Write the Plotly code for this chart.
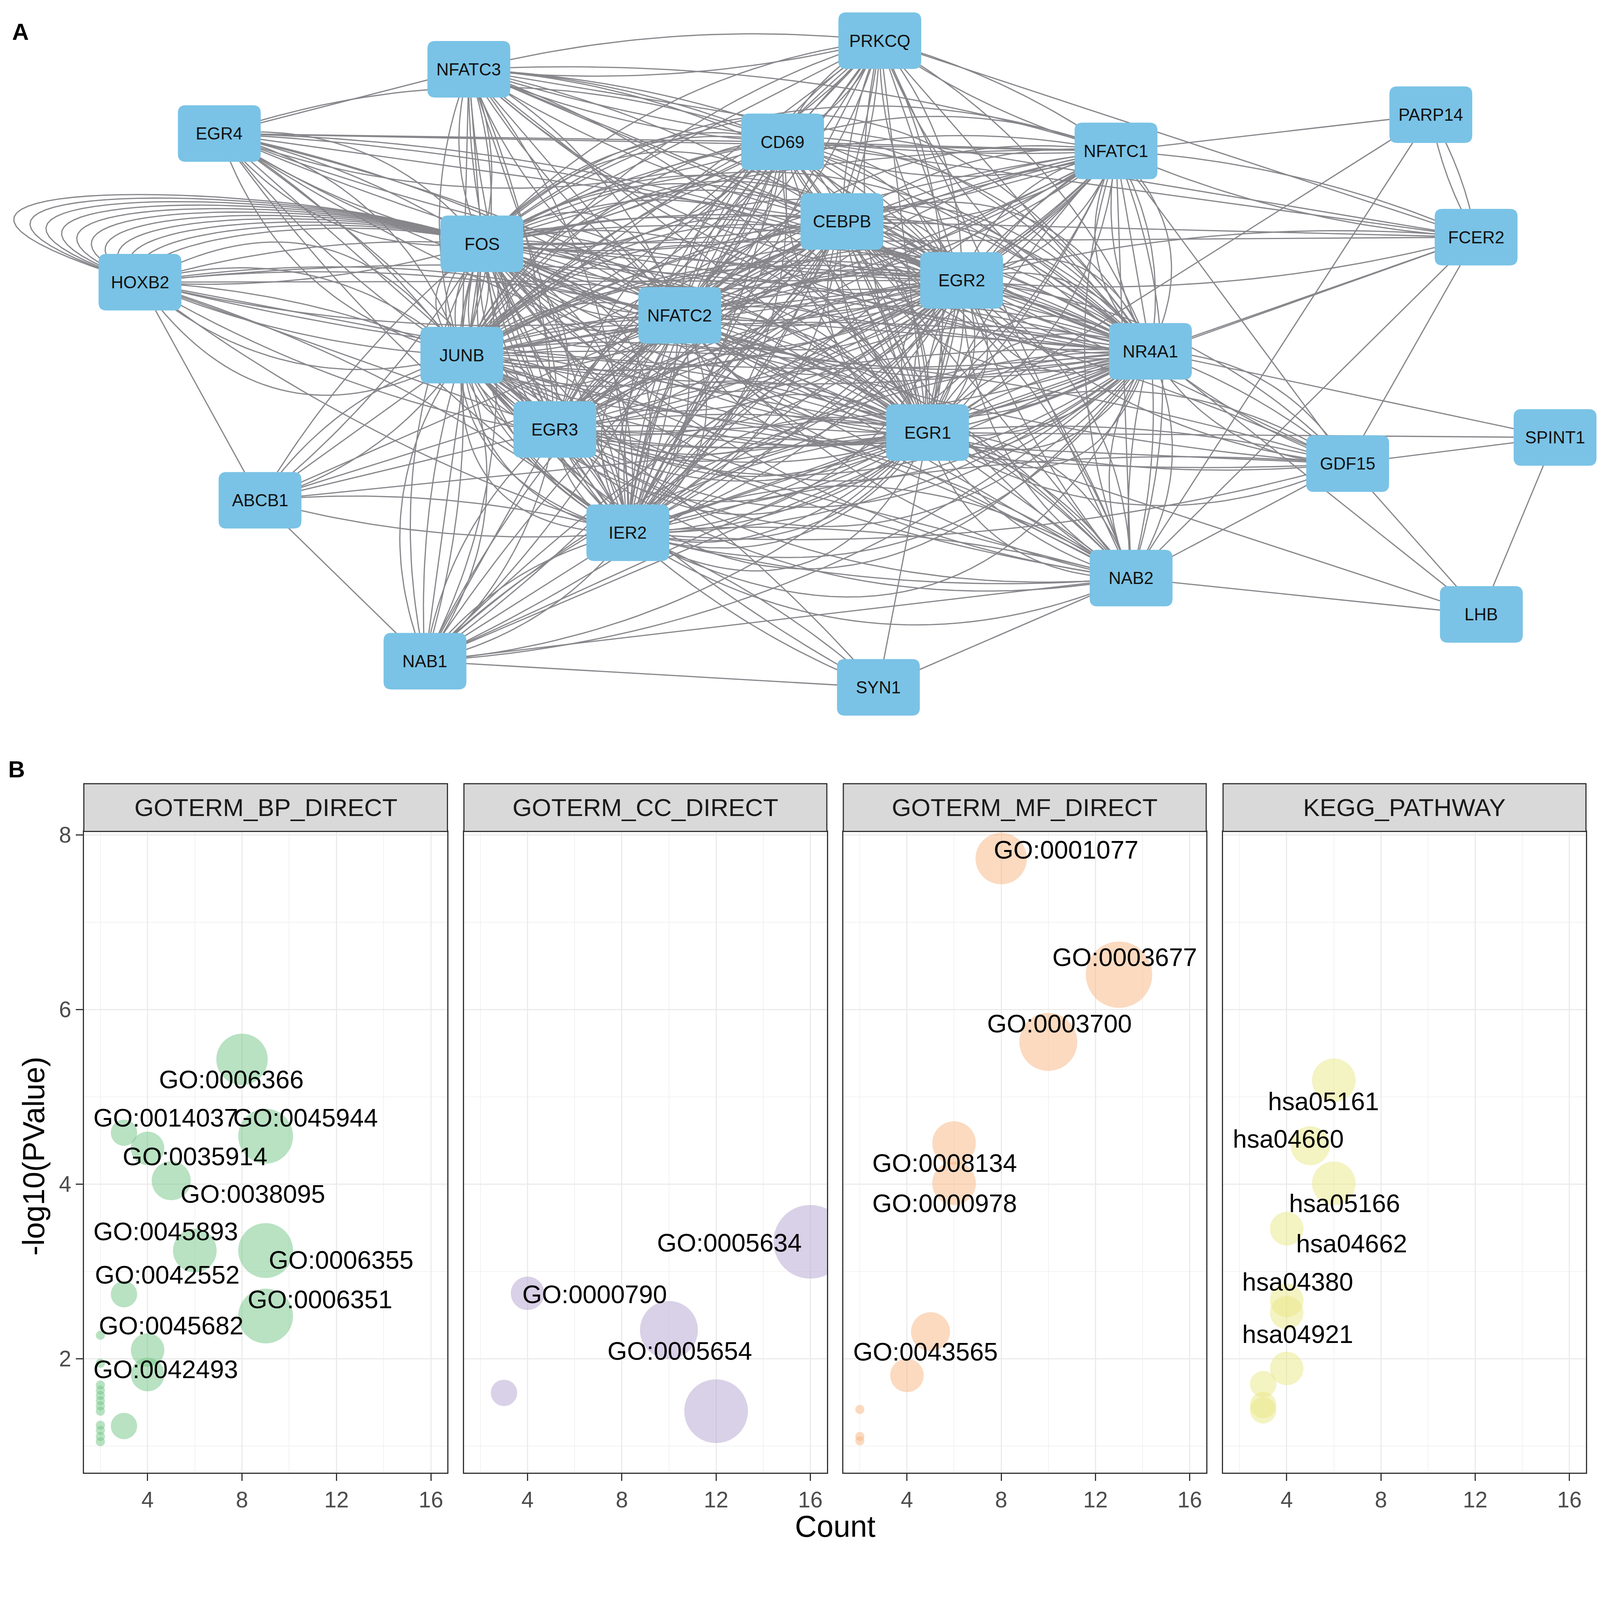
import numpy as np
import plotly.graph_objects as go

# ------------------------------------------------------------------
# Panel A : PPI network (node layout coordinates in reference pixels)
# ------------------------------------------------------------------
node_names = ["PRKCQ", "NFATC3", "EGR4", "CD69", "NFATC1", "PARP14", "FCER2", "CEBPB",
              "FOS", "HOXB2", "EGR2", "NFATC2", "NR4A1", "JUNB", "EGR3", "EGR1",
              "SPINT1", "GDF15", "ABCB1", "IER2", "NAB2", "LHB", "NAB1", "SYN1"]
node_x = [2498, 1327, 616, 2221, 3171, 4068, 4197, 2390,
          1364, 390, 2731, 1928, 3269, 1307, 1572, 2634,
          4422, 3831, 732, 1780, 3214, 4212, 1202, 2494]
node_y = [83, 165, 349, 373, 399, 295, 646, 601,
          665, 775, 770, 870, 973, 984, 1197, 1206,
          1220, 1295, 1400, 1493, 1623, 1727, 1861, 1936]

# edges: "A-B:multiplicity"
edge_list = """
FOS-JUNB:8 FOS-EGR1:7 FOS-EGR2:7 FOS-NR4A1:7 FOS-NFATC2:8 FOS-IER2:7 FOS-EGR3:6 FOS-CEBPB:6
JUNB-EGR1:8 JUNB-EGR2:7 JUNB-NR4A1:8 JUNB-NFATC2:6 JUNB-IER2:7 JUNB-EGR3:6 JUNB-CEBPB:6
EGR1-EGR2:7 EGR1-NR4A1:8 EGR1-NFATC2:6 EGR1-IER2:7 EGR1-EGR3:6 EGR1-CEBPB:6
EGR2-NR4A1:7 EGR2-NFATC2:7 EGR2-IER2:7 EGR2-EGR3:6 EGR2-CEBPB:6
NR4A1-NFATC2:7 NR4A1-IER2:7 NR4A1-EGR3:6 NR4A1-CEBPB:6
NFATC2-IER2:6 NFATC2-EGR3:4 NFATC2-CEBPB:4 IER2-EGR3:4 IER2-CEBPB:4 EGR3-CEBPB:4
CD69-FOS:4 CD69-JUNB:4 CD69-EGR1:4 CD69-EGR2:4 CD69-NR4A1:4 CD69-NFATC1:3 CD69-NFATC2:4
CD69-NFATC3:2 CD69-PRKCQ:3 CD69-CEBPB:3 CD69-EGR4:3 CD69-IER2:4 CD69-FCER2:1 CD69-EGR3:3
NFATC1-PRKCQ:2 NFATC1-FOS:4 NFATC1-JUNB:4 NFATC1-EGR1:4 NFATC1-EGR2:4 NFATC1-NR4A1:5
NFATC1-NFATC2:4 NFATC1-NFATC3:2 NFATC1-IER2:4 NFATC1-CEBPB:3 NFATC1-FCER2:2 NFATC1-GDF15:1
NFATC1-NAB2:3 NFATC1-EGR3:3 NFATC1-EGR4:1
NFATC3-PRKCQ:2 NFATC3-FOS:3 NFATC3-JUNB:3 NFATC3-EGR4:1 NFATC3-NFATC2:3 NFATC3-EGR1:3
NFATC3-EGR2:3 NFATC3-NR4A1:3 NFATC3-IER2:3 NFATC3-CEBPB:2 NFATC3-FCER2:1 NFATC3-EGR3:2
PRKCQ-FOS:3 PRKCQ-JUNB:3 PRKCQ-NFATC2:3 PRKCQ-EGR1:3 PRKCQ-EGR2:3 PRKCQ-NR4A1:3
PRKCQ-IER2:3 PRKCQ-CEBPB:2 PRKCQ-FCER2:1 PRKCQ-EGR3:2 PRKCQ-NAB2:1
EGR4-FOS:4 EGR4-JUNB:4 EGR4-NFATC2:2 EGR4-EGR1:2 EGR4-EGR2:2 EGR4-NR4A1:2 EGR4-IER2:2
EGR4-EGR3:1 EGR4-CEBPB:1
HOXB2-FOS:2 HOXB2-JUNB:6 HOXB2-NFATC2:2 HOXB2-EGR1:3 HOXB2-EGR2:1 HOXB2-NR4A1:2
HOXB2-IER2:2 HOXB2-EGR3:1 HOXB2-ABCB1:1
ABCB1-NAB1:1 ABCB1-JUNB:3 ABCB1-FOS:2 ABCB1-NFATC2:1 ABCB1-EGR1:1 ABCB1-IER2:2
ABCB1-EGR3:1 ABCB1-EGR2:1
NAB1-JUNB:4 NAB1-FOS:3 NAB1-IER2:3 NAB1-EGR3:3 NAB1-EGR1:3 NAB1-EGR2:2 NAB1-NR4A1:3
NAB1-NAB2:1 NAB1-NFATC2:2 NAB1-SYN1:1 NAB1-CEBPB:2
NAB2-EGR1:5 NAB2-EGR2:4 NAB2-NR4A1:4 NAB2-IER2:4 NAB2-JUNB:4 NAB2-FOS:3 NAB2-NFATC2:3
NAB2-EGR3:3 NAB2-CEBPB:3 NAB2-SYN1:1 NAB2-GDF15:1 NAB2-FCER2:1 NAB2-PARP14:1
SYN1-EGR1:1 SYN1-JUNB:2 SYN1-IER2:2
GDF15-NR4A1:4 GDF15-EGR1:4 GDF15-EGR2:3 GDF15-FCER2:1 GDF15-SPINT1:1 GDF15-LHB:1
GDF15-JUNB:2 GDF15-FOS:2 GDF15-IER2:2 GDF15-EGR3:1
FCER2-PARP14:2 FCER2-EGR2:2 FCER2-CEBPB:1 FCER2-NR4A1:1 FCER2-EGR1:1 FCER2-FOS:1
PARP14-EGR1:1 PARP14-NFATC1:1
SPINT1-NR4A1:1 SPINT1-LHB:1 SPINT1-EGR1:1
LHB-NR4A1:1 LHB-EGR1:1 LHB-NAB2:1
"""
# bundled FOS-HOXB2 edges drawn as wide loops
loop_pair = ("FOS", "HOXB2")
loop_count = 11

# ------------------------------------------------------------------
# Panel B : functional enrichment bubble plots
# ------------------------------------------------------------------
bp_count = [8, 9, 3, 4, 5, 6, 9, 3, 9, 4, 4, 3,
            2, 2, 2, 2, 2, 2, 2, 2, 2, 2, 2, 2]
bp_logp = [5.43, 4.55, 4.59, 4.41, 4.04, 3.24, 3.24, 2.74, 2.49, 2.10, 1.82, 1.23,
           2.27, 1.95, 1.70, 1.64, 1.58, 1.52, 1.46, 1.40, 1.24, 1.18, 1.11, 1.05]
bp_labels = ["GO:0006366", "GO:0014037", "GO:0045944", "GO:0035914", "GO:0038095", "GO:0045893",
             "GO:0006355", "GO:0042552", "GO:0006351", "GO:0045682", "GO:0042493"]
bp_label_x = [7.55, 4.77, 10.68, 6.01, 8.45, 4.77, 12.2, 4.83, 11.3, 4.99, 4.77]
bp_label_y = [5.20, 4.76, 4.76, 4.32, 3.89, 3.46, 3.13, 2.96, 2.68, 2.38, 1.88]

cc_count = [16, 4, 10, 3, 12]
cc_logp = [3.34, 2.75, 2.33, 1.61, 1.40]
cc_labels = ["GO:0005634", "GO:0000790", "GO:0005654"]
cc_label_x = [12.56, 6.84, 10.45]
cc_label_y = [3.33, 2.74, 2.09]

mf_count = [8, 13, 10, 6, 6, 5, 4, 2, 2, 2]
mf_logp = [7.73, 6.40, 5.63, 4.47, 4.01, 2.31, 1.81, 1.42, 1.11, 1.06]
mf_labels = ["GO:0001077", "GO:0003677", "GO:0003700", "GO:0008134", "GO:0000978", "GO:0043565"]
mf_label_x = [10.75, 13.24, 10.47, 5.59, 5.59, 4.79]
mf_label_y = [7.83, 6.60, 5.84, 4.24, 3.78, 2.08]

kegg_count = [6, 5, 6, 4, 4, 4, 4, 3, 3, 3]
kegg_logp = [5.19, 4.44, 4.01, 3.49, 2.67, 2.53, 1.89, 1.71, 1.47, 1.41]
kegg_labels = ["hsa05161", "hsa04660", "hsa05166", "hsa04662", "hsa04380", "hsa04921"]
kegg_label_x = [5.56, 4.06, 6.46, 6.76, 4.47, 4.46]
kegg_label_y = [4.95, 4.52, 3.78, 3.32, 2.88, 2.28]

categories = ["GOTERM_BP_DIRECT", "GOTERM_CC_DIRECT", "GOTERM_MF_DIRECT", "KEGG_PATHWAY"]
cat_colors = ["rgba(115,198,135,0.72)", "rgba(180,165,208,0.72)",
              "rgba(248,182,130,0.72)", "rgba(234,232,135,0.72)"]
x_ticks = [4, 8, 12, 16]
y_ticks = [2, 4, 6, 8]

# ------------------------------------------------------------------
RW, RH = 4550, 4390              # reference canvas (layout units)
S = 4088 / RW                    # uniform scale so the whole figure is captured
W, H = round(RW * S), round(RH * S)
FONT = "Liberation Sans, Arial, sans-serif"

pos = {n: (x, y) for n, x, y in zip(node_names, node_x, node_y)}
ex, ey = [], []
t = np.linspace(0, 1, 40)
spacing = 0.18
for tok in edge_list.split():
    pair, m = tok.split(":")
    a, b = pair.split("-")
    m = int(m)
    p0 = np.array(pos[a], float)
    p2 = np.array(pos[b], float)
    d = p2 - p0
    L = np.hypot(*d)
    perp = np.array([-d[1], d[0]]) / L
    mid = (p0 + p2) / 2
    for k in range(m):
        off = (k - (m - 1) / 2) * spacing * L
        c = mid + perp * off
        bx = (1 - t) ** 2 * p0[0] + 2 * (1 - t) * t * c[0] + t ** 2 * p2[0]
        by = (1 - t) ** 2 * p0[1] + 2 * (1 - t) * t * c[1] + t ** 2 * p2[1]
        ex += list(bx) + [None]
        ey += list(by) + [None]

P0 = np.array(pos[loop_pair[0]], float)
P3 = np.array(pos[loop_pair[1]], float)
for k in range(loop_count):
    a = k / (loop_count - 1)
    P1 = P0 + np.array([-450 + 150 * a, -190 + 100 * a])
    P2 = np.array([-673 + 1068 * a, P3[1] - 330 + 180 * a])
    bx = (1 - t) ** 3 * P0[0] + 3 * (1 - t) ** 2 * t * P1[0] + 3 * (1 - t) * t ** 2 * P2[0] + t ** 3 * P3[0]
    by = (1 - t) ** 3 * P0[1] + 3 * (1 - t) ** 2 * t * P1[1] + 3 * (1 - t) * t ** 2 * P2[1] + t ** 3 * P3[1]
    ex += list(bx) + [None]
    ey += list(by) + [None]

fig = go.Figure()
fig.add_trace(go.Scatter(x=ex, y=ey, mode="lines", xaxis="x5", yaxis="y5",
                         line=dict(color="#86868B", width=3.4 * S), hoverinfo="skip",
                         showlegend=False))

net_top = 2195
shapes = []
annotations = []
bw, bh, r = 236, 162, 22
for n, x, y in zip(node_names, node_x, node_y):
    x0, x1, y0, y1 = x - bw / 2, x + bw / 2, y - bh / 2, y + bh / 2
    path = (f"M {x0 + r},{y0} L {x1 - r},{y0} Q {x1},{y0} {x1},{y0 + r} "
            f"L {x1},{y1 - r} Q {x1},{y1} {x1 - r},{y1} L {x0 + r},{y1} "
            f"Q {x0},{y1} {x0},{y1 - r} L {x0},{y0 + r} Q {x0},{y0} {x0 + r},{y0} Z")
    shapes.append(dict(type="path", path=path, xref="x5", yref="y5",
                       fillcolor="#7AC3E6", line=dict(width=0), layer="above"))
    annotations.append(dict(x=x, y=y, xref="x5", yref="y5", text=n, showarrow=False,
                            xanchor="center", yanchor="middle",
                            font=dict(family=FONT, size=49 * S, color="#111111")))

panel_px = [(230, 1266), (1313, 2347), (2394, 3428), (3476, 4510)]
plot_top, plot_bot, strip_top = 2349, 4186, 2212
ydom = [1 - plot_bot / RH, 1 - plot_top / RH]

cmin, cmax, rmin, rmax = 2, 16, 13 * S, 105 * S


def diam(c):
    c = np.asarray(c, float)
    return 2 * (rmin + (rmax - rmin) * np.sqrt((c - cmin) / (cmax - cmin)))


series = [(bp_count, bp_logp, bp_labels, bp_label_x, bp_label_y),
          (cc_count, cc_logp, cc_labels, cc_label_x, cc_label_y),
          (mf_count, mf_logp, mf_labels, mf_label_x, mf_label_y),
          (kegg_count, kegg_logp, kegg_labels, kegg_label_x, kegg_label_y)]

LW = 3.3 * S
layout_axes = {}
for i, (cnt, lp, labs, lx, ly) in enumerate(series):
    ax = "" if i == 0 else str(i + 1)
    fig.add_trace(go.Scatter(x=cnt, y=lp, mode="markers", xaxis="x" + ax, yaxis="y" + ax,
                             marker=dict(size=diam(cnt), color=cat_colors[i], line=dict(width=0)),
                             showlegend=False, hoverinfo="skip"))
    for s, xx, yy in zip(labs, lx, ly):
        annotations.append(dict(x=xx, y=yy, xref="x" + ax, yref="y" + ax, text=s,
                                showarrow=False, xanchor="center", yanchor="middle",
                                font=dict(family=FONT, size=72 * S, color="#000000")))
    px0, px1 = panel_px[i]
    layout_axes["xaxis" + ax] = dict(
        domain=[px0 / RW, px1 / RW], range=[1.3, 16.7], tickvals=x_ticks,
        showgrid=True, gridcolor="#EBEBEB", gridwidth=3.2 * S, zeroline=False,
        minor=dict(tickvals=[2, 6, 10, 14], showgrid=True, gridcolor="#F2F2F2",
                   gridwidth=1.8 * S, ticks=""),
        showline=True, mirror=True, linecolor="#333333", linewidth=LW,
        ticks="outside", ticklen=20 * S, tickwidth=LW, tickcolor="#333333",
        tickfont=dict(family=FONT, size=63 * S, color="#4D4D4D"), anchor="y" + ax)
    layout_axes["yaxis" + ax] = dict(
        domain=ydom, range=[0.697, 8.04], tickvals=y_ticks,
        showgrid=True, gridcolor="#EBEBEB", gridwidth=3.2 * S, zeroline=False,
        minor=dict(tickvals=[1, 3, 5, 7], showgrid=True, gridcolor="#F2F2F2",
                   gridwidth=1.8 * S, ticks=""),
        showline=True, mirror=True, linecolor="#333333", linewidth=LW,
        ticks="outside" if i == 0 else "", ticklen=20 * S, tickwidth=LW, tickcolor="#333333",
        showticklabels=(i == 0),
        tickfont=dict(family=FONT, size=63 * S, color="#4D4D4D"), anchor="x" + ax)
    shapes.append(dict(type="rect", xref="paper", yref="paper",
                       x0=px0 / RW, x1=px1 / RW, y0=1 - plot_top / RH, y1=1 - strip_top / RH,
                       fillcolor="#D9D9D9", line=dict(color="#333333", width=LW), layer="above"))
    annotations.append(dict(x=(px0 + px1) / 2 / RW, y=1 - (plot_top + strip_top) / 2 / RH,
                            xref="paper", yref="paper", text=categories[i], showarrow=False,
                            xanchor="center", yanchor="middle",
                            font=dict(family=FONT, size=71 * S, color="#1A1A1A")))

annotations += [
    dict(x=2371 / RW, y=1 - 4340 / RH, xref="paper", yref="paper", text="Count", showarrow=False,
         xanchor="center", yanchor="middle", font=dict(family=FONT, size=86 * S, color="#000000")),
    dict(x=87 / RW, y=1 - 3279 / RH, xref="paper", yref="paper", text="-log10(PValue)",
         showarrow=False, textangle=-90, xanchor="center", yanchor="middle",
         font=dict(family=FONT, size=86 * S, color="#000000")),
    dict(x=49 / RW, y=1 - 58 / RH, xref="paper", yref="paper", text="<b>A</b>", showarrow=False,
         xanchor="center", yanchor="middle", font=dict(family=FONT, size=66 * S, color="#000000")),
    dict(x=38 / RW, y=1 - 2171 / RH, xref="paper", yref="paper", text="<b>B</b>", showarrow=False,
         xanchor="center", yanchor="middle", font=dict(family=FONT, size=66 * S, color="#000000")),
]

fig.update_layout(
    width=W, height=H, margin=dict(l=0, r=0, t=0, b=0),
    paper_bgcolor="white", plot_bgcolor="white", showlegend=False,
    xaxis5=dict(domain=[0, 1], range=[0, RW], visible=False, anchor="y5"),
    yaxis5=dict(domain=[1 - net_top / RH, 1], range=[net_top, 0], visible=False, anchor="x5"),
    shapes=shapes, annotations=annotations, **layout_axes)

fig.write_html("out.html")
